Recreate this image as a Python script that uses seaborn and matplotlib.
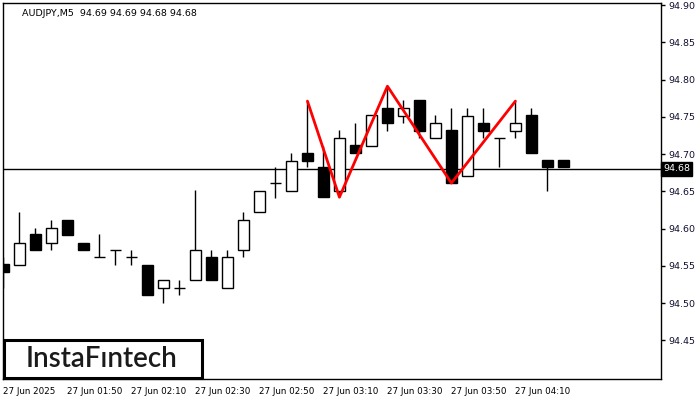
import matplotlib
matplotlib.use("Agg")
from matplotlib import pyplot as plt
from matplotlib.patches import Rectangle
import numpy as np
import pandas as pd
import seaborn as sns

# AUDJPY M5 candles, 01:30 .. 04:25
opens = [94.552, 94.551, 94.592, 94.581, 94.612, 94.581, 94.562, 94.571, 94.562, 94.551,
         94.520, 94.520, 94.531, 94.562, 94.520, 94.571, 94.622, 94.661, 94.651, 94.702,
         94.682, 94.651, 94.712, 94.711, 94.762, 94.751, 94.772, 94.722, 94.732, 94.671,
         94.741, 94.722, 94.731, 94.752, 94.692, 94.692]
highs = [94.562, 94.622, 94.601, 94.612, 94.612, 94.581, 94.592, 94.571, 94.571, 94.551,
         94.531, 94.531, 94.652, 94.571, 94.571, 94.622, 94.651, 94.682, 94.702, 94.771,
         94.711, 94.732, 94.741, 94.752, 94.791, 94.772, 94.772, 94.752, 94.762, 94.762,
         94.762, 94.722, 94.771, 94.762, 94.692, 94.692]
lows = [94.520, 94.551, 94.571, 94.571, 94.591, 94.571, 94.562, 94.551, 94.551, 94.511,
        94.500, 94.511, 94.531, 94.531, 94.520, 94.562, 94.622, 94.641, 94.651, 94.682,
        94.642, 94.642, 94.701, 94.711, 94.731, 94.741, 94.722, 94.722, 94.661, 94.671,
        94.721, 94.682, 94.721, 94.701, 94.651, 94.682]
closes = [94.542, 94.581, 94.571, 94.601, 94.591, 94.571, 94.562, 94.571, 94.562, 94.511,
          94.531, 94.520, 94.571, 94.531, 94.562, 94.611, 94.651, 94.661, 94.691, 94.691,
          94.642, 94.722, 94.701, 94.752, 94.741, 94.762, 94.731, 94.741, 94.661, 94.751,
          94.731, 94.722, 94.741, 94.701, 94.682, 94.682]

# red pattern line (candle index, price)
pattern_idx = [19, 21, 24, 28, 32]
pattern_price = [94.771, 94.642, 94.791, 94.661, 94.771]

current_price = 94.68
y_ticks = [94.45, 94.50, 94.55, 94.60, 94.65, 94.70, 94.75, 94.80, 94.85, 94.90]
x_tick_idx = [0, 4, 8, 12, 16, 20, 24, 28, 32]
x_tick_labels = ['27 Jun 2025', '27 Jun 01:50', '27 Jun 02:10', '27 Jun 02:30', '27 Jun 02:50',
                 '27 Jun 03:10', '27 Jun 03:30', '27 Jun 03:50', '27 Jun 04:10']
title_text = 'AUDJPY,M5  94.69 94.69 94.68 94.68'

df = pd.DataFrame({'Open': opens, 'High': highs, 'Low': lows, 'Close': closes})
df['idx'] = np.arange(len(df))

sns.set_style("white")
plt.rcParams['font.family'] = ['DejaVu Sans']

fig = plt.figure(figsize=(7, 4), dpi=100)
ax = fig.add_axes([3 / 700, 21 / 400, 658 / 700, 376 / 400])

# wicks
ax.vlines(df['idx'], df['Low'], df['High'], color='black', lw=1, zorder=2)

# bodies
body_w = 0.67
for _, r in df.iterrows():
    lo = min(r['Open'], r['Close'])
    h = abs(r['Close'] - r['Open'])
    if h < 1e-6:
        ax.hlines(r['Open'], r['idx'] - body_w / 2, r['idx'] + body_w / 2, color='black', lw=1, zorder=3)
    else:
        fc = 'white' if r['Close'] > r['Open'] else 'black'
        ax.bar(r['idx'], h, bottom=lo, width=body_w, color=fc, edgecolor='black', lw=1, zorder=3)

# current price line
ax.axhline(current_price, color='black', lw=1, zorder=1)

# pattern
sns.lineplot(x=pattern_idx, y=pattern_price, color='red', lw=2, sort=False, ax=ax, zorder=4)

ax.set_xlim(-0.03, 41.1)
ax.set_ylim(94.398, 94.9027)

ax.yaxis.tick_right()
ax.set_yticks(y_ticks)
ax.set_yticklabels([f'{v:.2f}' for v in y_ticks])
ax.set_xticks(x_tick_idx)
ax.set_xticklabels(x_tick_labels, ha='left')
ax.tick_params(axis='y', direction='out', length=3, width=1, pad=2, labelsize=6.8, colors='black')
ax.tick_params(axis='x', direction='out', length=3, width=1, pad=3, labelsize=6.3, colors='black')
ax.tick_params(axis='y', labelcolor='#101030')
for s in ax.spines.values():
    s.set_color('black')
    s.set_linewidth(1)
ax.set_xlabel('')
ax.set_ylabel('')

# price tag
ax.text(1.003, current_price, f'{current_price:.2f}', transform=ax.get_yaxis_transform(),
        ha='left', va='center', fontsize=6.8, color='white',
        bbox=dict(boxstyle='square,pad=0.25', fc='black', ec='black'))

# header text
ax.text(19 / 658, 1 - 10 / 376, title_text, transform=ax.transAxes, ha='left', va='center',
        fontsize=6.8, color='black')

# logo box
fig.patches.append(Rectangle((4 / 700, 22 / 400), 198 / 700, 38 / 400, transform=fig.transFigure,
                             fill=True, fc='white', ec='black', lw=2.2, zorder=5))
fig.text(101 / 700, 41 / 400, 'InstaF\u0131ntech', ha='center', va='center', fontsize=20,
         family=['Lato', 'DejaVu Sans'], fontweight='semibold', color='#1a1a1a', zorder=6)

plt.savefig('out.png', dpi=100)
